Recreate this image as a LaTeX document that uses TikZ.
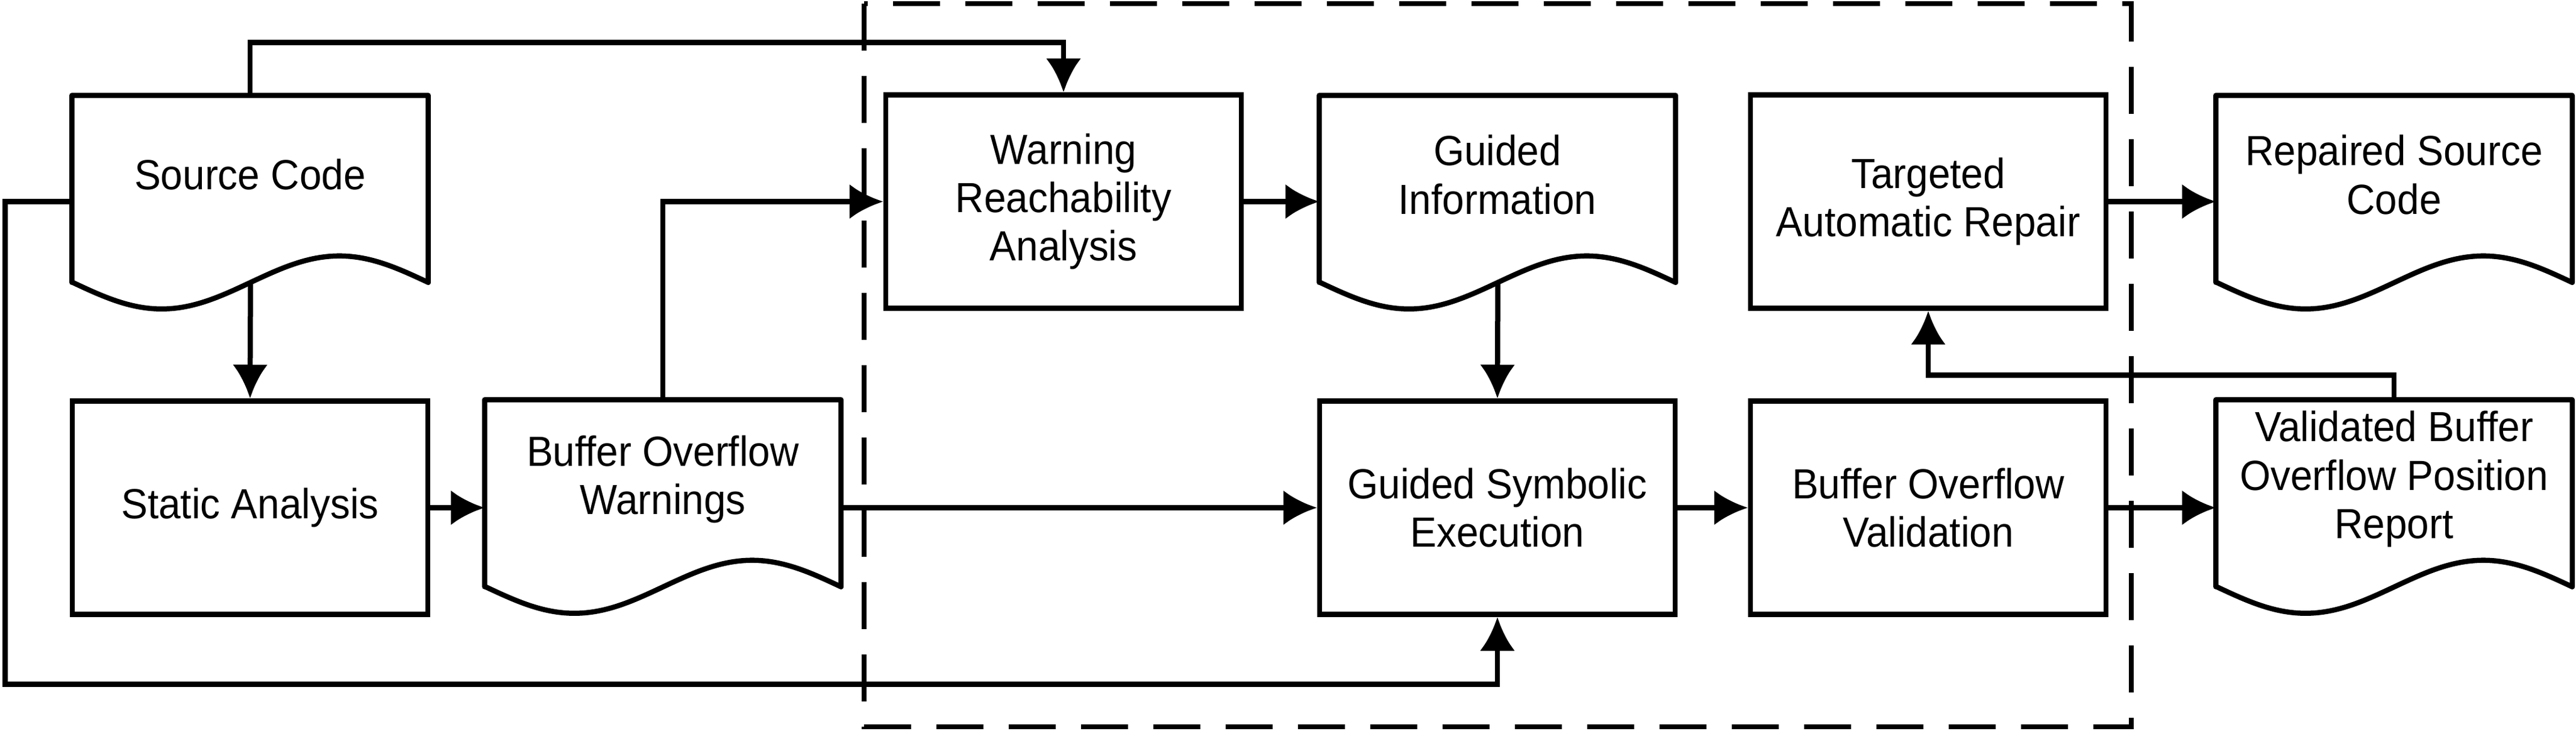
\documentclass[tikz,border=0pt]{standalone}
\usepackage{fontspec}
\setmainfont{Liberation Sans}[FakeStretch=0.94]
\usetikzlibrary{arrows.meta}

\tikzset{
  proc/.style={draw, line width=0.085cm, minimum width=5.9cm, minimum height=3.54cm, align=center, inner sep=0pt},
  docu/.style={minimum width=5.9cm, minimum height=2.62cm, align=center, inner sep=0pt},
  edge/.style={line width=0.085cm, -{Latex[length=0.56cm,width=0.58cm]}},
  frame/.style={line width=0.085cm, dash pattern=on 0.78cm off 0.42cm},
}
% outline of a document node, with the wavy bottom below its south side
\newcommand{\docoutline}[1]{
  \draw[line width=0.085cm, line join=round] ([yshift=-0.47cm]#1.south west) -- (#1.north west) -- (#1.north east) -- ([yshift=-0.47cm]#1.south east)
     sin ++(-1.475,0.44) cos ++(-1.475,-0.44) coordinate (#1-w) sin ++(-1.475,-0.44) cos ++(-1.475,0.44) -- cycle;
}

\begin{document}
\begin{tikzpicture}[font=\fontsize{19.9}{22.8}\selectfont]
\useasboundingbox (0,0) rectangle (42.75,-12.13);
% Documents
\node[docu] (src) at (4.15,-2.90) {Source Code};
\node[docu] (bow) at (11.00,-7.95) {Buffer Overflow\\Warnings};
\node[docu] (gi) at (24.85,-2.90) {Guided\\Information};
\node[docu] (rsc) at (39.73,-2.90) {Repaired Source\\Code};
\node[docu] (vbo) at (39.73,-7.95) {Validated Buffer\\Overflow Position\\Report};
\docoutline{src}
\docoutline{bow}
\docoutline{gi}
\docoutline{rsc}
\docoutline{vbo}
% Processes
\node[proc] (sa) at (4.15,-8.425) {Static Analysis};
\node[proc] (wra) at (17.65,-3.345) {Warning\\Reachability\\Analysis};
\node[proc] (gse) at (24.85,-8.425) {Guided Symbolic\\Execution};
\node[proc] (tar) at (32.00,-3.345) {Targeted\\Automatic Repair};
\node[proc] (bov) at (32.00,-8.425) {Buffer Overflow\\Validation};
% Dashed frame round the core steps
\draw[frame] (14.34,-0.06) rectangle (35.37,-12.06);
   % Edges
   \draw[edge] (src.north) -- ++(0,0.88) -| (wra.north);
   \draw[edge] (src-w) -- (sa.north);
   \draw[edge] (src.west |- wra.west) -- ++(-1.11,0) |- ([yshift=-1.115cm]gse.south) -- (gse.south);
   \draw[edge] (sa.east) -- (bow.west |- sa.east);
   \draw[edge] (bow.north) |- (wra.west);
   \draw[edge] (bow.east |- gse.west) -- (gse.west);
   \draw[edge] (wra.east) -- (gi.west |- wra.east);
   \draw[edge] (gi-w) -- (gse.north);
   \draw[edge] (gse.east) -- (bov.west);
   \draw[edge] (bov.east) -- (vbo.west |- bov.east);
   \draw[edge] (tar.east) -- (rsc.west |- tar.east);
   % Feedback to repair
   \draw[edge] (vbo.north) -- ++(0,0.41) -| (tar.south);
\end{tikzpicture}
\end{document}
